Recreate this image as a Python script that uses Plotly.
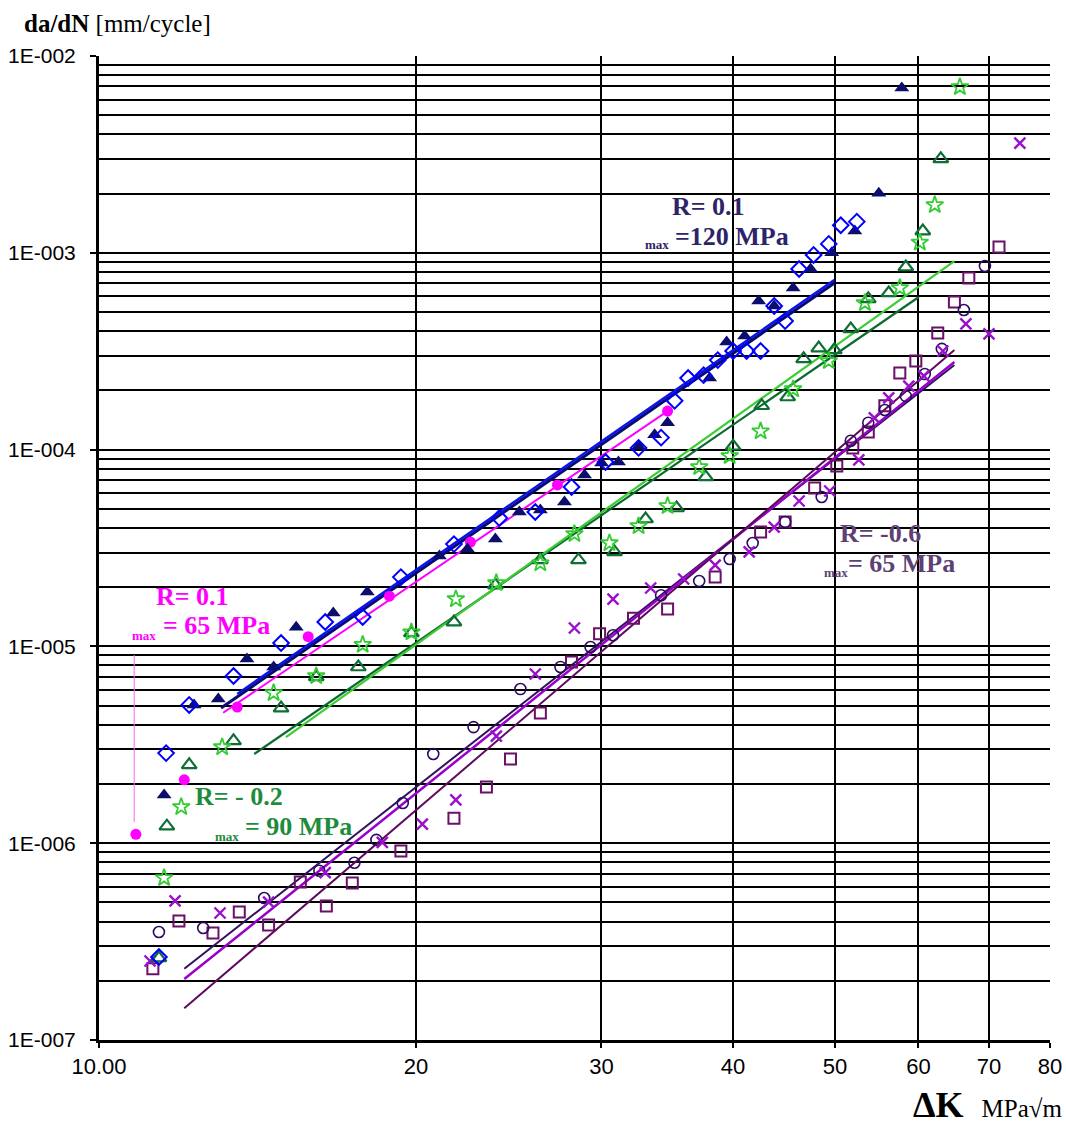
import plotly.graph_objects as go

# ---------------- data ----------------
tri_navy_x = [11.53, 12.31, 12.98, 13.82, 14.65, 15.39, 16.69, 17.98, 21.05, 22.38, 23.79, 25.07, 26.25,
              27.67, 28.91, 30.01, 31.14, 32.54, 33.70, 34.67, 38.01, 39.45, 41.03, 42.31, 43.77, 45.62,
              47.40, 49.64, 52.21, 55.02, 57.86]
tri_navy_y = [1.76e-6, 5.04e-6, 5.41e-6, 8.63e-6, 7.86e-6, 1.25e-5, 1.48e-5, 1.89e-5, 2.88e-5, 3.13e-5,
              3.51e-5, 4.82e-5, 4.93e-5, 5.42e-5, 7.43e-5, 8.55e-5, 8.65e-5, 1.04e-4, 1.19e-4, 1.37e-4,
              2.31e-4, 3.52e-4, 3.78e-4, 5.69e-4, 5.37e-4, 6.63e-4, 8.27e-4, 1.00e-3, 1.29e-3, 2.01e-3, 6.88e-3]

dia_blue_x = [11.40, 11.58, 12.18, 13.42, 14.89, 16.40, 17.80, 19.35, 21.73, 24.00, 25.96, 28.10, 30.27,
              32.54, 34.18, 35.21, 36.26, 37.51, 38.69, 40.01, 41.21, 42.49, 43.77, 44.83, 46.22, 47.71,
              49.32, 50.63, 52.44]
dia_blue_y = [2.64e-7, 2.87e-6, 5.04e-6, 7.07e-6, 1.04e-5, 1.33e-5, 1.41e-5, 2.25e-5, 3.31e-5, 4.49e-5,
              4.82e-5, 6.46e-5, 8.65e-5, 1.02e-4, 1.15e-4, 1.77e-4, 2.31e-4, 2.39e-4, 2.85e-4, 3.17e-4,
              3.17e-4, 3.17e-4, 5.37e-4, 4.50e-4, 8.27e-4, 9.75e-4, 1.11e-3, 1.38e-3, 1.44e-3]

dot_mag_x = [10.84, 12.05, 13.53, 15.80, 18.87, 22.53, 27.25, 34.67]
dot_mag_y = [1.11e-6, 2.10e-6, 4.92e-6, 1.12e-5, 1.80e-5, 3.39e-5, 6.61e-5, 1.57e-4]

tri_green_x = [11.40, 11.60, 12.18, 13.42, 14.89, 16.08, 17.63, 19.80, 21.73, 23.79, 26.25, 28.53, 30.87,
               33.04, 35.36, 37.68, 40.01, 42.59, 45.08, 46.68, 48.25, 49.92, 51.75, 53.77, 56.23, 58.37,
               60.58, 63.01]
tri_green_y = [2.61e-7, 1.22e-6, 2.50e-6, 3.31e-6, 4.86e-6, 6.99e-6, 7.86e-6, 1.17e-5, 1.33e-5, 2.05e-5,
               2.75e-5, 2.75e-5, 3.02e-5, 4.44e-5, 5.05e-5, 7.26e-5, 1.04e-4, 1.67e-4, 1.85e-4, 2.89e-4,
               3.28e-4, 3.21e-4, 4.10e-4, 5.83e-4, 6.25e-4, 8.47e-4, 1.29e-3, 3.00e-3]

star_x = [11.53, 11.97, 13.09, 14.65, 16.08, 17.80, 19.80, 21.82, 23.84, 26.25, 28.28, 30.53, 32.54, 34.67,
          37.15, 39.71, 42.49, 45.62, 49.32, 53.37, 57.61, 60.18, 62.18, 65.69]
star_y = [6.66e-7, 1.53e-6, 3.08e-6, 5.80e-6, 7.07e-6, 1.02e-5, 1.18e-5, 1.74e-5, 2.10e-5, 2.65e-5, 3.73e-5,
          3.35e-5, 4.09e-5, 5.17e-5, 8.16e-5, 9.28e-5, 1.24e-4, 2.03e-4, 2.82e-4, 5.56e-4, 6.63e-4, 1.13e-3,
          1.75e-3, 6.96e-3]

circ_x = [11.40, 12.56, 14.35, 16.19, 17.48, 18.34, 19.43, 20.77, 22.68, 25.13, 27.43, 29.29, 30.77, 34.18,
          37.15, 39.71, 41.76, 44.83, 48.56, 51.75, 53.77, 55.75, 58.37, 60.84, 63.15, 66.27, 69.39]
circ_y = [3.54e-7, 3.71e-7, 5.27e-7, 7.25e-7, 7.96e-7, 1.04e-6, 1.60e-6, 2.84e-6, 3.89e-6, 6.07e-6, 7.86e-6,
          9.93e-6, 1.14e-5, 1.82e-5, 2.15e-5, 2.78e-5, 3.35e-5, 4.29e-5, 5.74e-5, 1.11e-4, 1.37e-4, 1.59e-4,
          1.87e-4, 2.42e-4, 3.25e-4, 5.12e-4, 8.57e-4]

cross_x = [11.18, 11.81, 13.03, 14.49, 16.40, 18.58, 20.28, 21.82, 23.84, 25.96, 28.28, 30.77, 33.41, 35.91,
           38.47, 41.44, 43.77, 46.22, 49.42, 52.67, 54.48, 56.23, 58.75, 60.71, 63.29, 66.56, 70.01, 74.90]
cross_y = [2.52e-7, 5.09e-7, 4.42e-7, 5.02e-7, 7.08e-7, 1.01e-6, 1.25e-6, 1.66e-6, 3.50e-6, 7.24e-6, 1.24e-5,
           1.74e-5, 1.98e-5, 2.20e-5, 2.59e-5, 3.02e-5, 4.04e-5, 5.48e-5, 6.16e-5, 8.86e-5, 1.45e-4, 1.83e-4,
           2.10e-4, 2.37e-4, 3.17e-4, 4.35e-4, 3.87e-4, 3.61e-3]

sq_x = [11.25, 11.91, 12.83, 13.59, 14.49, 15.53, 16.44, 17.40, 19.35, 21.73, 23.33, 24.59, 26.25, 28.10,
        29.88, 32.18, 34.67, 38.47, 42.49, 44.83, 47.82, 50.19, 51.98, 53.77, 55.75, 57.61, 59.66, 62.59,
        64.91, 66.99, 71.56]
sq_y = [2.30e-7, 4.02e-7, 3.50e-7, 4.47e-7, 3.84e-7, 6.35e-7, 4.80e-7, 6.28e-7, 9.13e-7, 1.34e-6, 1.93e-6,
        2.68e-6, 4.59e-6, 8.33e-6, 1.16e-5, 1.39e-5, 1.55e-5, 2.25e-5, 3.81e-5, 4.29e-5, 6.38e-5, 8.26e-5,
        1.02e-4, 1.23e-4, 1.67e-4, 2.45e-4, 2.82e-4, 3.91e-4, 5.62e-4, 7.45e-4, 1.07e-3]

# fitted trend lines (end points)
fit_navy_x, fit_navy_y = [13.06, 49.9], [4.86e-6, 7.0e-4]
fit_blue_x, fit_blue_y = [13.53, 49.92], [5.73e-6, 7.27e-4]
fit_mag_x, fit_mag_y = [13.12, 34.67], [4.6e-6, 1.57e-4]
fit_dkgreen_x, fit_dkgreen_y = [14.04, 60.05], [2.84e-6, 5.96e-4]
fit_ltgreen_x, fit_ltgreen_y = [15.05, 64.91], [3.46e-6, 9.08e-4]
fit_indigo_x, fit_indigo_y = [12.05, 64.91], [2.30e-7, 2.69e-4]
fit_violet_x, fit_violet_y = [12.05, 64.91], [2.04e-7, 2.79e-4]
fit_plum_x, fit_plum_y = [12.05, 64.91], [1.45e-7, 3.21e-4]

# thin magenta connector line beside the pink label
mag_connector_x, mag_connector_y = [10.80, 10.80], [9.04e-6, 1.28e-6]

x_ticks = [10, 20, 30, 40, 50, 60, 70, 80]
x_ticktext = ["10.00", "20", "30", "40", "50", "60", "70", "80"]
y_ticks = [1e-7, 1e-6, 1e-5, 1e-4, 1e-3, 1e-2]
y_ticktext = ["1E-007", "1E-006", "1E-005", "1E-004", "1E-003", "1E-002"]
y_minor = [m * 10.0 ** e for e in range(-7, -2) for m in range(2, 10)]

# ---------------- figure ----------------
fig = go.Figure()

def line(x, y, color, width=2):
    fig.add_trace(go.Scatter(x=x, y=y, mode="lines", line=dict(color=color, width=width),
                             showlegend=False, hoverinfo="skip"))

def pts(x, y, symbol, color, size, lw=1.5, fill=None):
    fig.add_trace(go.Scatter(x=x, y=y, mode="markers", showlegend=False,
                             marker=dict(symbol=symbol, size=size,
                                         color=fill if fill else color,
                                         line=dict(color=color, width=lw))))

line(mag_connector_x, mag_connector_y, "#ff66ee", 1)

line(fit_indigo_x, fit_indigo_y, "#33105e", 2)
line(fit_violet_x, fit_violet_y, "#9a00cc", 2.5)
line(fit_plum_x, fit_plum_y, "#5e0a5e", 2)
line(fit_dkgreen_x, fit_dkgreen_y, "#0c6a30", 2.2)
line(fit_ltgreen_x, fit_ltgreen_y, "#3ccc33", 2.2)
line(fit_navy_x, fit_navy_y, "#0a0a70", 3)
line(fit_mag_x, fit_mag_y, "#ff00ff", 2)
line(fit_blue_x, fit_blue_y, "#0a14e6", 2.6)

pts(sq_x, sq_y, "square-open", "#6a1068", 11, 2)
pts(circ_x, circ_y, "circle-open", "#2c0a60", 11, 1.6)
pts(cross_x, cross_y, "x-thin-open", "#9a10cc", 11, 2.4)
pts(tri_green_x, tri_green_y, "triangle-up-open", "#0f6e35", 13, 2.2)
pts(star_x, star_y, "star-open", "#33cc33", 13, 1.8)
pts(dot_mag_x, dot_mag_y, "circle", "#ff00ff", 11, 0)
pts(tri_navy_x, tri_navy_y, "triangle-up", "#0d0d6b", 13, 0)
pts(dia_blue_x, dia_blue_y, "diamond-open", "#0000ff", 12, 2)

W, H = 1066, 1124
L, R, T, B = 99, 16, 56, 84
pw, ph = W - L - R, H - T - B

def px(xp):
    return (xp - L) / pw

def py(yp):
    return (H - B - yp) / ph

serif = "Liberation Serif, Times New Roman, serif"
ann = []

def text(s, xpix, ypix, color, size, bold=True, anchor="left"):
    ann.append(dict(text=("<b>%s</b>" % s) if bold else s, x=px(xpix), y=py(ypix), xref="paper", yref="paper",
                    xanchor=anchor, yanchor="middle", showarrow=False,
                    font=dict(family=serif, size=size, color=color)))

c1 = "#2d2369"
text("R= 0.1", 670, 206, c1, 26)
text("max", 643, 245, c1, 13)
text("=120 MPa", 673, 236, c1, 26)

c2 = "#ff00ff"
text("R= 0.1", 154, 596, c2, 26)
text("max", 130, 635, c2, 13)
text("= 65 MPa", 161, 625, c2, 26)

c3 = "#1e8c3c"
text("R= - 0.2", 193, 796, c3, 26)
text("max", 213, 836, c3, 13)
text("= 90 MPa", 243, 826, c3, 26)

c4 = "#5e4173"
text("R= -0.6", 838, 533, c4, 26)
text("max", 822, 572, c4, 13)
text("= 65 MPa", 846, 563, c4, 26)

ann.append(dict(text="<b>da/dN</b> [mm/cycle]", x=px(22), y=py(23), xref="paper", yref="paper",
                xanchor="left", yanchor="middle", showarrow=False,
                font=dict(family=serif, size=25, color="black")))
ann.append(dict(text="<b>ΔK</b>  <span style='font-size:25px'>MPa√m</span>", x=px(1065), y=py(1105),
                xref="paper", yref="paper", xanchor="right", yanchor="middle", showarrow=False,
                font=dict(family=serif, size=36, color="black")))

fig.update_layout(
    width=W, height=H,
    margin=dict(l=L, r=R, t=T, b=B, pad=0, autoexpand=False),
    paper_bgcolor="white", plot_bgcolor="white",
    font=dict(family="Liberation Sans, Arial, sans-serif", size=23, color="black"),
    annotations=ann,
    showlegend=False,
)
fig.update_xaxes(type="log", range=[1, 1.9031], tickvals=x_ticks, ticktext=x_ticktext,
                 automargin=False,
                 showgrid=True, gridcolor="black", gridwidth=2,
                 showline=True, linecolor="black", linewidth=3,
                 ticks="outside", ticklen=5, tickwidth=2, tickcolor="black",
                 tickfont=dict(size=22), zeroline=False)
fig.update_yaxes(type="log", range=[-7, -2], tickvals=y_ticks, ticktext=y_ticktext,
                 automargin=False,
                 showgrid=True, gridcolor="black", gridwidth=2,
                 minor=dict(tickvals=y_minor, showgrid=True, gridcolor="black", gridwidth=2, ticks=""),
                 showline=True, linecolor="black", linewidth=3,
                 ticks="outside", ticklen=6, tickwidth=2, tickcolor="black",
                 ticklabelstandoff=10,
                 tickfont=dict(size=21), zeroline=False)

fig.write_html("out.html", config={"displayModeBar": False},
               post_script="document.body.style.margin='0';")
